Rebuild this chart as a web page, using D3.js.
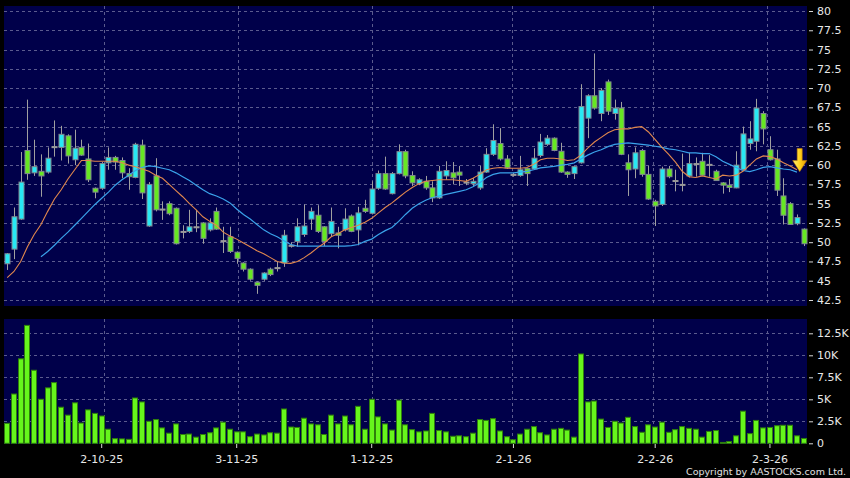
<!DOCTYPE html>
<html><head><meta charset="utf-8">
<script src="https://cdn.jsdelivr.net/npm/d3@7/dist/d3.min.js"></script>
<style>
html,body{margin:0;padding:0;background:#000;}
svg{display:block;}
</style></head>
<body>
<svg id="chart" width="850" height="478"></svg>
<script>
// ---------- DATA ----------
const open  = [47.2,49.1,53.0,61.9,59.0,59.2,59.1,62.4,62.3,63.8,60.7,62.3,60.8,57.0,57.0,60.3,61.0,60.6,58.9,58.4,
62.6,52.1,58.6,54.3,55.0,54.4,51.4,51.4,52.0,52.5,51.6,54.0,50.2,50.7,48.7,47.3,46.5,44.8,45.2,46.5,
46.7,47.3,49.6,50.1,51.0,53.0,53.5,52.0,51.1,51.2,51.6,53.4,51.6,54.4,53.75,57.0,58.9,56.3,58.9,61.75,
58.65,57.6,57.9,57.05,55.75,58.6,59.0,59.1,57.8,57.6,57.05,59.1,61.4,62.8,60.8,58.8,58.65,59.55,59.5,61.25,
62.7,63.5,61.8,59.1,58.9,60.3,66.1,69.0,66.7,70.8,66.7,67.4,60.3,59.5,61.9,58.8,55.3,54.9,59.5,58.0,
57.5,58.6,60.2,60.5,60.1,59.2,57.7,57.4,57.05,59.4,62.8,63.1,66.7,62.0,60.8,56.0,55.0,52.4,51.7];
const high  = [48.6,54.5,61.7,68.5,63.3,61.4,62.3,65.8,65.1,64.0,64.6,63.3,62.8,57.1,60.4,62.3,61.2,61.0,59.6,62.9,
63.3,57.8,60.9,55.3,55.3,54.5,52.2,54.2,54.2,52.6,53.1,54.5,52.0,52.0,48.8,47.4,46.6,44.9,46.1,46.7,
47.5,51.6,50.0,53.1,54.9,54.5,54.8,52.1,54.5,52.0,54.4,53.6,54.6,55.5,57.9,59.3,61.1,59.1,62.7,62.0,
59.2,58.3,58.6,57.9,59.9,60.5,60.4,59.9,58.2,58.3,59.9,62.2,65.3,64.8,61.3,59.0,61.2,59.6,62.2,64.05,
63.9,63.6,62.9,59.2,59.9,70.5,69.2,74.5,70.0,71.1,68.5,68.2,61.4,62.3,62.1,59.9,55.5,59.8,59.9,59.4,
61.5,61.6,61.0,61.6,61.3,59.4,57.8,58.2,61.8,65.0,65.7,68.6,67.0,63.75,62.0,58.3,55.2,53.6,51.8];
const low   = [46.4,47.8,52.9,58.1,58.6,55.9,58.9,61.1,60.6,60.2,60.0,61.2,57.8,55.7,56.8,59.4,59.4,58.3,56.8,58.3,
55.6,52.0,54.0,52.9,53.5,49.7,50.5,51.2,51.3,49.8,51.4,51.6,48.6,48.6,47.2,46.2,45.0,43.3,45.0,45.6,
46.2,46.8,49.3,49.4,50.7,51.6,51.2,49.5,50.7,49.2,51.4,51.3,49.6,53.8,53.6,56.8,56.8,56.2,58.8,58.3,
57.3,57.4,56.8,55.2,55.6,58.1,57.5,57.3,57.4,57.3,56.8,59.0,61.2,60.6,59.5,58.5,58.5,57.3,59.4,61.0,
62.5,61.8,59.0,58.35,58.2,60.2,63.5,67.2,65.7,66.5,65.9,61.3,56.0,58.3,58.5,55.5,52.1,54.7,58.3,56.6,
56.6,58.4,58.5,58.7,58.5,58.0,56.3,56.5,57.0,59.3,62.0,61.8,62.7,60.6,56.0,52.3,52.3,52.2,49.5];
const close = [48.5,53.3,57.8,58.9,59.8,58.6,60.9,62.4,64.0,61.2,62.2,61.3,58.1,56.5,60.2,61.0,60.4,59.0,58.5,62.7,
56.4,57.5,54.2,54.3,53.7,49.8,51.4,52.0,52.0,50.5,52.5,51.7,50.2,48.8,47.9,46.5,45.2,44.4,46.0,45.8,
46.7,50.9,49.6,52.0,52.1,54.0,51.4,50.1,52.7,50.9,53.0,51.4,53.8,54.0,56.9,58.9,56.9,58.9,61.75,58.6,
57.7,58.1,57.05,55.75,59.2,59.3,58.35,58.7,57.8,57.9,59.1,61.4,63.2,60.8,59.65,58.8,59.4,58.9,60.9,63.0,
63.5,61.9,59.1,58.8,59.8,67.6,69.0,67.4,69.7,67.0,67.4,61.4,59.4,61.6,58.8,55.6,54.7,59.5,58.5,58.0,
57.5,60.2,60.2,58.7,60.1,58.0,57.4,57.1,60.0,64.05,63.4,67.4,64.7,60.7,56.75,53.5,52.3,53.2,49.8];
// volume in shares (thousands)
const volumeK = [2.27,5.6,9.6,13.4,8.3,5.0,6.3,6.9,4.1,3.2,4.6,2.3,3.8,3.4,3.1,1.6,0.53,0.5,0.45,5.15,
4.7,2.5,2.7,1.75,1.15,2.2,1.0,1.05,0.7,1.0,1.2,1.75,2.4,1.6,1.3,1.3,0.75,1.05,0.95,1.2,
1.15,3.9,1.85,1.8,2.85,2.2,2.1,1.0,3.2,2.2,3.1,2.1,4.2,1.6,5.0,3.0,2.2,1.5,4.9,2.1,
1.55,1.3,1.4,3.4,1.45,1.3,0.8,0.85,0.75,1.15,2.7,2.6,2.8,1.4,0.75,0.4,1.05,1.6,1.9,1.2,
0.95,1.6,1.7,1.5,0.7,10.15,4.7,4.8,2.75,1.8,2.5,2.3,2.95,1.9,1.25,2.1,1.85,2.4,1.25,1.55,
1.9,1.7,1.6,0.7,1.35,1.45,0.1,0.2,0.85,3.65,1.1,2.6,1.75,1.8,2.0,2.05,2.05,0.85,0.55];
// short moving average (orange) and long moving average (blue), read per bar; null = not drawn
const maShort = [45.4,46.2,47.5,49.4,51.0,52.3,54.0,55.6,56.8,58.2,59.4,60.6,60.6,60.5,60.5,60.5,60.5,60.3,60.0,59.8,
59.5,59.2,58.7,58.3,57.5,56.7,55.9,55.0,54.2,53.3,52.7,52.2,51.3,50.8,50.4,49.9,49.4,48.9,48.5,48.0,
47.5,47.3,47.25,47.5,48.0,48.6,49.3,49.9,50.7,51.1,51.6,51.9,52.2,52.6,53.1,53.8,54.5,55.1,55.8,56.5,
57.1,57.6,57.9,58.0,58.1,58.1,58.1,58.0,57.9,58.3,58.8,59.4,59.6,59.7,59.6,59.6,59.6,59.7,60.1,60.7,
60.9,60.9,60.8,60.6,60.7,61.3,62.2,63.0,63.6,64.2,64.6,64.7,64.7,64.9,65.0,64.3,63.3,62.3,61.4,60.4,
59.2,58.5,58.4,58.6,58.4,58.2,58.7,58.6,58.7,59.2,60.0,60.8,61.2,61.1,60.8,60.3,59.9,59.4,null];
const maLong = [null,null,null,null,null,48.1,48.8,49.6,50.5,51.3,52.2,53.1,54.0,54.9,55.7,56.5,57.4,58.1,58.7,59.3,
59.7,59.9,59.8,59.6,59.4,59.0,58.5,58.0,57.4,56.8,56.3,56.0,55.6,55.1,54.3,53.6,53.0,52.3,51.6,51.1,
50.7,50.2,49.7,49.5,49.5,49.5,49.5,49.5,49.5,49.5,49.5,49.55,49.7,50.1,50.4,51.0,51.5,51.9,52.7,53.6,
54.4,55.0,55.45,55.8,56.0,56.2,56.4,56.6,56.8,57.2,57.7,58.4,58.8,59.0,59.0,59.0,59.1,59.2,59.4,59.65,
59.75,59.85,60.0,60.1,60.3,60.8,61.3,61.7,62.0,62.4,62.7,62.8,62.9,62.8,62.7,62.6,62.45,62.3,62.1,62.0,
61.8,61.6,61.6,61.5,61.5,61.1,60.5,60.1,59.7,59.3,59.15,59.4,59.7,59.8,59.65,59.5,59.4,59.1,null];
// x-axis ticks (bar index and label)
const tickIndex  = [14,34,54,75,96,113];
const tickLabels = ["2-10-25","3-11-25","1-12-25","2-1-26","2-2-26","2-3-26"];
const priceTicks = [42.5,45,47.5,50,52.5,55,57.5,60,62.5,65,67.5,70,72.5,75,77.5,80];
const volTicks = [0,2500,5000,7500,10000,12500];
const volTickLabels = ["0","2.5K","5K","7.5K","10K","12.5K"];

// ---------- LAYOUT ----------
const svg = d3.select("#chart");
const n = close.length;
const P = {left:4, right:807, top:6, bottom:306};       // price panel
const V = {left:4, right:807, top:319, bottom:444};     // volume panel
const font = "'DejaVu Sans', Verdana, sans-serif";
const gridColor = "#5b5b8e";
const navy = "#00004a";

const x = d3.scaleBand().domain(d3.range(n)).range([3.825, 3.825 + 6.75*n]).padding(0);
const cx = i => x(i) + x.bandwidth()/2;
// vertical grid lines follow the chart's own (slightly different) month spacing
const xGrid = d3.scaleLinear().domain([0, n-1]).range([10.6, 800.1]);
const y = d3.scaleLinear().domain([42.5, 80]).range([300, 11]);
const yv = d3.scaleLinear().domain([0, 12500]).range([443.3, 333.3]);

svg.append("rect").attr("width",850).attr("height",478).attr("fill","#000");

// panels
svg.append("rect").attr("x",P.left).attr("y",P.top).attr("width",P.right-P.left).attr("height",P.bottom-P.top).attr("fill",navy);
svg.append("rect").attr("x",V.left).attr("y",V.top).attr("width",V.right-V.left).attr("height",V.bottom-V.top).attr("fill",navy);

// grids
const gP = svg.append("g");
gP.selectAll("line.h").data(priceTicks).join("line")
  .attr("x1",P.left).attr("x2",P.right).attr("y1",d=>Math.round(y(d))+0.5).attr("y2",d=>Math.round(y(d))+0.5)
  .attr("stroke",gridColor).attr("stroke-dasharray","3,3");
gP.selectAll("line.v").data(tickIndex).join("line")
  .attr("x1",d=>Math.round(xGrid(d))+0.5).attr("x2",d=>Math.round(xGrid(d))+0.5).attr("y1",P.top).attr("y2",P.bottom)
  .attr("stroke",gridColor).attr("stroke-dasharray","3,3");
const gV = svg.append("g");
gV.selectAll("line.h").data(volTicks.filter(d=>d>0)).join("line")
  .attr("x1",V.left).attr("x2",V.right).attr("y1",d=>Math.round(yv(d))+0.5).attr("y2",d=>Math.round(yv(d))+0.5)
  .attr("stroke",gridColor).attr("stroke-dasharray","3,3");
gV.selectAll("line.v").data(tickIndex).join("line")
  .attr("x1",d=>Math.round(xGrid(d))+0.5).attr("x2",d=>Math.round(xGrid(d))+0.5).attr("y1",V.top).attr("y2",V.bottom)
  .attr("stroke",gridColor).attr("stroke-dasharray","3,3");

// candles
const candles = d3.range(n).map(i => ({i, o:open[i], h:high[i], l:low[i], c:close[i]}));
const gC = svg.append("g");
gC.selectAll("line.wick").data(candles).join("line")
  .attr("x1",d=>Math.round(cx(d.i))+0.5).attr("x2",d=>Math.round(cx(d.i))+0.5)
  .attr("y1",d=>y(d.h)).attr("y2",d=>y(d.l))
  .attr("stroke","#a0a0a0").attr("stroke-width",1);
gC.selectAll("rect.body").data(candles).join("rect")
  .attr("x",d=>Math.round(cx(d.i)) - 2.5 + 0.5)
  .attr("width",5)
  .attr("y",d=>y(Math.max(d.o,d.c)))
  .attr("height",d=>Math.max(1, Math.abs(y(d.o)-y(d.c))))
  .attr("fill",d=> d.c>d.o ? "#28e8f4" : (d.c<d.o ? "#66e822" : "#9a9a9a"))
  .attr("stroke",d=> d.c===d.o ? "#9a9a9a" : "#808890")
  .attr("stroke-width",1);

// moving averages
const lineGen = arr => d3.line().defined(i=>arr[i]!=null).x(i=>cx(i)).y(i=>y(arr[i])).curve(d3.curveLinear);
svg.append("path").datum(d3.range(n)).attr("d",lineGen(maLong)).attr("fill","none").attr("stroke","#3aa2ea").attr("stroke-width",1.2);
svg.append("path").datum(d3.range(n)).attr("d",lineGen(maShort)).attr("fill","none").attr("stroke","#e2884e").attr("stroke-width",1.1);

// volume bars
svg.append("g").selectAll("rect").data(d3.range(n)).join("rect")
  .attr("x",i=>Math.round(cx(i)) - 2.5)
  .attr("width",5)
  .attr("y",i=>yv(volumeK[i]*1000))
  .attr("height",i=>yv(0)-yv(volumeK[i]*1000))
  .attr("fill","#66f51c").attr("stroke","#2f7f0c").attr("stroke-width",1);

// arrow marker at the last moving-average point
const defs = svg.append("defs");
const grad = defs.append("linearGradient").attr("id","arr").attr("x1","0").attr("x2","1").attr("y1","0").attr("y2","0");
grad.append("stop").attr("offset","0").attr("stop-color","#fff07a");
grad.append("stop").attr("offset","0.5").attr("stop-color","#ffd21c");
grad.append("stop").attr("offset","1").attr("stop-color","#e69a00");
const ax = cx(n-1) - 4, ay = y(maLong[n-2]) - 0.5;
svg.append("path")
  .attr("d",`M${ax-2.5},${ay-23} L${ax+2.5},${ay-23} L${ax+2.5},${ay-11} L${ax+7},${ay-11} L${ax},${ay} L${ax-7},${ay-11} L${ax-2.5},${ay-11} Z`)
  .attr("fill","url(#arr)").attr("stroke","#c88400").attr("stroke-width",0.6);

// axes
const styleAxis = g => {
  g.select(".domain").remove();
  g.selectAll(".tick line").attr("stroke","#d8d8d8");
  g.selectAll(".tick text").attr("fill","#e8e8e8").attr("font-family",font).attr("font-size","11px");
};
svg.append("g").attr("transform","translate(809,0)")
  .call(d3.axisRight(y).tickValues(priceTicks).tickSize(4).tickPadding(4).tickFormat(d=>String(d)))
  .call(styleAxis);
svg.append("g").attr("transform","translate(809,0)")
  .call(d3.axisRight(yv).tickValues(volTicks).tickSize(4).tickPadding(4).tickFormat((d,k)=>volTickLabels[k]))
  .call(styleAxis);
svg.append("g").attr("transform",`translate(0,${V.bottom})`)
  .call(d3.axisBottom(x).tickValues(tickIndex).tickSize(4).tickPadding(7).tickFormat((d,k)=>tickLabels[k]))
  .call(styleAxis);

svg.append("text").attr("x",846).attr("y",475).attr("text-anchor","end")
  .attr("font-family",font).attr("font-size","9.5px").attr("fill","#e0e0e0")
  .text("Copyright by AASTOCKS.com Ltd.");
</script>
</body></html>
